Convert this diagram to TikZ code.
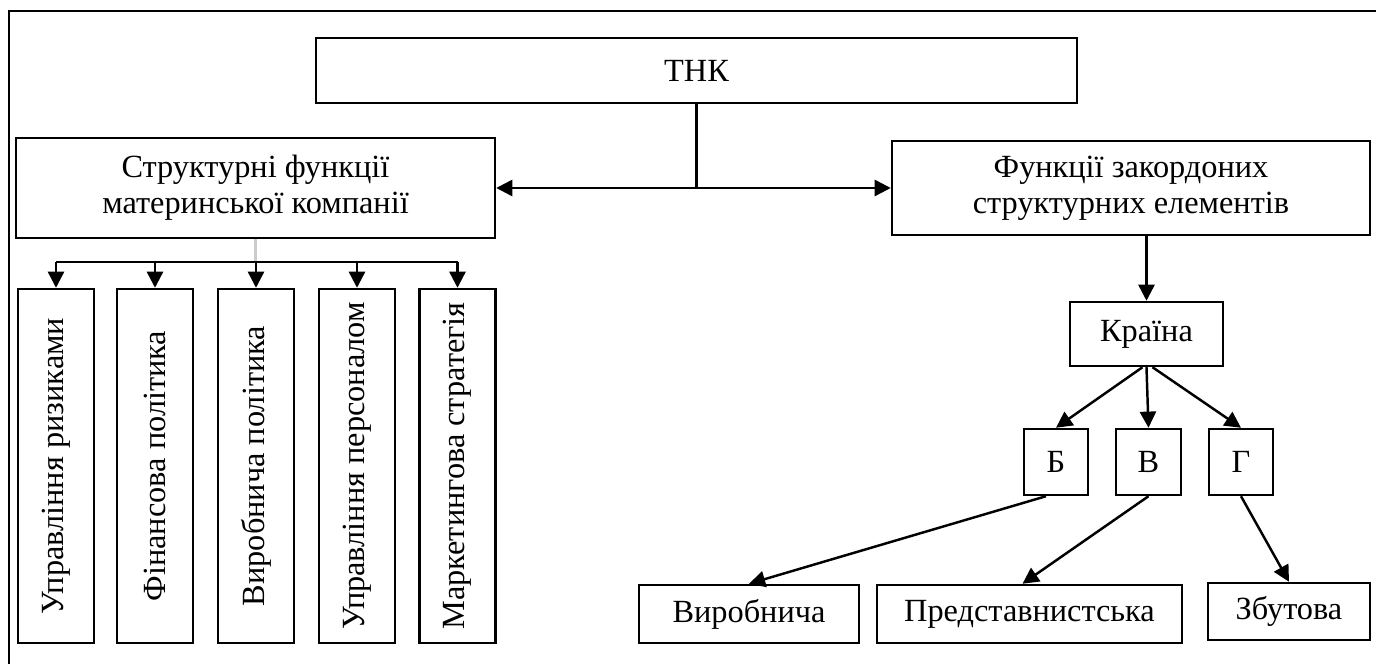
\documentclass[tikz,border=0pt]{standalone}
\usepackage{fontspec}
\setmainfont{Liberation Serif}
\usetikzlibrary{arrows.meta}

\begin{document}
\begin{tikzpicture}[
		box/.style={draw, line width=0.7pt, inner sep=0pt, align=center, font=\fontsize{9.2}{10.2}\selectfont},
		vbox/.style={box, rotate=90, minimum width=3.54cm, minimum height=0.76cm},
		arr/.style={line width=0.7pt, -{Triangle[length=4.6pt,width=4.6pt]}}
	]
			\useasboundingbox (0,0) rectangle (13.76,6.64);
			\draw[line width=0.6pt] (0.09,-0.5) rectangle (14.5,6.53);
			\node[box, minimum width=7.61cm, minimum height=0.65cm] (tnk) at (6.965,5.935) {ТНК};
			\node[box, minimum width=4.79cm, minimum height=1.00cm] (mother) at (2.555,4.76) {Структурні функції\\материнської компанії};
			\node[box, minimum width=4.78cm, minimum height=0.94cm] (foreign) at (11.31,4.76) {Функції закордоних\\структурних елементів};
			\coordinate (split) at (tnk.south |- mother.east);
			\draw[line width=0.7pt] (tnk.south) -- (split);
			\draw[arr] (split) -- (mother.east);
			\draw[arr] (split) -- (foreign.west);

			\node[vbox] (f1) at (0.56,1.98) {Управління ризиками};
			\node[vbox] (f2) at (1.55,1.98) {Фінансова політика};
			\node[vbox] (f3) at (2.56,1.98) {Виробнича політика};
			\node[vbox] (f4) at (3.57,1.98) {Управління персоналом};
			\node[vbox] (f5) at (4.575,1.98) {Маркетингова стратегія};
			\coordinate (bus) at (0,4.02);
			\draw[gray!40, line width=0.6pt] (mother.south) -- (mother.south |- bus);
			\draw[line width=0.7pt] (f1.east |- bus) -- (f5.east |- bus);
			\foreach \i in {1,...,5}
				\draw[arr] (f\i.east |- bus) -- (f\i.east);

			\node[box, minimum width=1.53cm, minimum height=0.64cm] (country) at (11.465,3.30) {Країна};
			\draw[arr] (foreign.south -| country.north) -- (country.north);
			\node[box, minimum width=0.64cm, minimum height=0.66cm] (b) at (10.56,2.02) {Б};
			\node[box, minimum width=0.65cm, minimum height=0.66cm] (v) at (11.485,2.02) {В};
			\node[box, minimum width=0.64cm, minimum height=0.66cm] (g) at (12.41,2.02) {Г};
			\draw[arr] ([xshift=-0.04cm]country.south) -- (b.north);
			\draw[arr] (country.south) -- (v.north);
			\draw[arr] ([xshift=0.06cm]country.south) -- (g.north);

			\node[box, minimum width=2.20cm, minimum height=0.58cm] (prod) at (7.49,0.50) {Виробнича};
			\node[box, minimum width=3.05cm, minimum height=0.58cm] (repr) at (10.295,0.50) {Представнистська};
			\node[box, minimum width=1.62cm, minimum height=0.57cm] (sales) at (12.89,0.525) {Збутова};
			\draw[arr] ([xshift=-0.1cm]b.south) -- (prod.north);
			\draw[arr] (v.south) -- ([xshift=-0.07cm]repr.north);
			\draw[arr] (g.south) -- (sales.north);
		\end{tikzpicture}
\end{document}
